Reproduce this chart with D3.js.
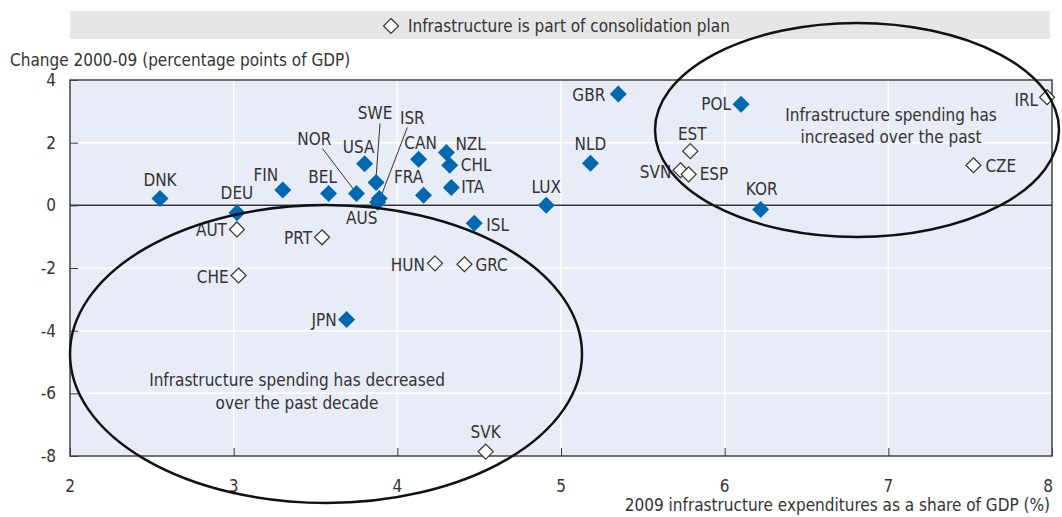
<!DOCTYPE html>
<html>
<head>
<meta charset="utf-8">
<script src="https://cdn.jsdelivr.net/npm/d3@7"></script>
<style>
  body { margin: 0; background: #fff; }
  svg text { font-family: "Liberation Sans Narrow", "DejaVu Sans Condensed", sans-serif; fill: #333; }
</style>
</head>
<body>
<div id="chart"></div>
<script>
// data
const codes = ['DNK', 'DEU', 'FIN', 'BEL', 'NOR', 'USA', 'SWE', 'ISR', 'AUS', 'CAN', 'NZL', 'CHL', 'FRA', 'ITA', 'ISL', 'LUX', 'NLD', 'GBR', 'POL', 'KOR', 'JPN',
  'AUT', 'CHE', 'PRT', 'HUN', 'GRC', 'SVK', 'EST', 'SVN', 'ESP', 'CZE', 'IRL'];
const spend2009 = [2.55, 3.02, 3.30, 3.58, 3.75, 3.80, 3.87, 3.89, 3.88, 4.13, 4.30, 4.32, 4.16, 4.33, 4.47, 4.91, 5.18, 5.35, 6.10, 6.22, 3.69,
  3.02, 3.03, 3.54, 4.23, 4.41, 4.54, 5.79, 5.73, 5.78, 7.52, 7.97];
const change0009 = [0.22, -0.24, 0.49, 0.38, 0.38, 1.33, 0.73, 0.22, 0.10, 1.47, 1.69, 1.28, 0.32, 0.57, -0.57, 0.0, 1.34, 3.55, 3.23, -0.13, -3.64,
  -0.77, -2.24, -1.02, -1.85, -1.88, -7.86, 1.73, 1.12, 0.99, 1.28, 3.45];
const inPlan = ['AUT', 'CHE', 'PRT', 'HUN', 'GRC', 'SVK', 'EST', 'SVN', 'ESP', 'CZE', 'IRL'];
const xTicks = [2, 3, 4, 5, 6, 7, 8];
const yTicks = [4, 2, 0, -2, -4, -6, -8];

const legendText = 'Infrastructure is part of consolidation plan';
const yTitle = 'Change 2000-09 (percentage points of GDP)';
const xTitle = '2009 infrastructure expenditures as a share of GDP (%)';
const noteUp = ['Infrastructure spending has', 'increased over the past'];
const noteDown = ['Infrastructure spending has decreased', 'over the past decade'];

// label placement (anchor, dx, dy) and optional leader line
const labelPos = {
  DNK: ['middle', 0, -18], DEU: ['middle', 0, -20], FIN: ['middle', -17, -15], BEL: ['middle', -6, -16],
  NOR: ['middle', -42, -54, [-34, -45, -2, -3]], USA: ['middle', -6, -17],
  SWE: ['middle', -1, -69, [4, -59, 0, -5]], ISR: ['middle', 33, -80, [28, -71, 2, -3]],
  AUS: ['middle', -16, 16], CAN: ['middle', 2, -16], NZL: ['start', 9, -8], CHL: ['start', 11, 0],
  FRA: ['middle', -15, -18], ITA: ['start', 10, 0], ISL: ['start', 12, 2], LUX: ['middle', 0, -18],
  NLD: ['middle', 0, -19], GBR: ['end', -13, 1], POL: ['end', -10, 0], KOR: ['middle', 1, -20],
  JPN: ['end', -10, 1], AUT: ['end', -10, 1], CHE: ['end', -10, 1], PRT: ['end', -10, 1],
  HUN: ['end', -10, 2], GRC: ['start', 11, 1], SVK: ['middle', 0, -20], EST: ['middle', 2, -17],
  SVN: ['end', -9, 2], ESP: ['start', 11, 0], CZE: ['start', 12, 1], IRL: ['end', -9, 3]
};

const width = 1062, height = 517;
const margin = { top: 80, right: 10, bottom: 61, left: 70 };
const innerW = width - margin.left - margin.right;
const innerH = height - margin.top - margin.bottom;

const svg = d3.select('#chart').append('svg')
  .attr('width', width)
  .attr('height', height);

// legend band
svg.append('rect')
  .attr('x', 70).attr('y', 11)
  .attr('width', 980).attr('height', 28)
  .attr('fill', '#e6e6e6');
const diamond = h => `M0,${-h}L${h},0L0,${h}L${-h},0Z`;
svg.append('path')
  .attr('d', diamond(7.5))
  .attr('transform', 'translate(391,26)')
  .attr('fill', '#fff').attr('stroke', '#333').attr('stroke-width', 1.2);
svg.append('text')
  .attr('x', 408).attr('y', 26)
  .attr('dominant-baseline', 'central')
  .style('font-size', '17px')
  .text(legendText);

svg.append('text')
  .attr('x', 10).attr('y', 60)
  .attr('dominant-baseline', 'central')
  .style('font-size', '17px')
  .text(yTitle);

const g = svg.append('g')
  .attr('transform', `translate(${margin.left},${margin.top})`);

const x = d3.scaleLinear().domain([2, 8]).range([0, innerW]);
const y = d3.scaleLinear().domain([-8, 4]).range([innerH, 0]);

g.append('rect')
  .attr('width', innerW).attr('height', innerH)
  .attr('fill', '#e8ecf7');

// grid
g.append('g').selectAll('line')
  .data(xTicks.slice(1, -1))
  .join('line')
  .attr('x1', d => x(d)).attr('x2', d => x(d))
  .attr('y1', 0).attr('y2', innerH)
  .attr('stroke', '#fff').attr('stroke-width', 1.5);
g.append('g').selectAll('line')
  .data(yTicks.slice(1, -1))
  .join('line')
  .attr('x1', 0).attr('x2', innerW)
  .attr('y1', d => y(d)).attr('y2', d => y(d))
  .attr('stroke', '#fff').attr('stroke-width', 1.5);

// axes
const yAxis = g.append('g')
  .call(d3.axisRight(y).tickValues(yTicks).tickSize(8).tickFormat(''));
yAxis.select('.domain').remove();
yAxis.selectAll('.tick line').attr('stroke', '#333');
const xAxis = g.append('g')
  .attr('transform', `translate(0,${innerH})`)
  .call(d3.axisTop(x).tickValues(xTicks).tickSize(8).tickFormat(''));
xAxis.select('.domain').remove();
xAxis.selectAll('.tick line').attr('stroke', '#333');

g.selectAll('.ytl')
  .data(yTicks)
  .join('text')
  .attr('class', 'ytl')
  .attr('x', -14).attr('y', d => y(d))
  .attr('text-anchor', 'end')
  .attr('dominant-baseline', 'central')
  .style('font-size', '17px')
  .text(d => d);
g.selectAll('.xtl')
  .data(xTicks)
  .join('text')
  .attr('class', 'xtl')
  .attr('x', d => x(d) - (d === 8 ? 4 : 0)).attr('y', innerH + 30)
  .attr('text-anchor', 'middle')
  .attr('dominant-baseline', 'central')
  .style('font-size', '17px')
  .text(d => d);

svg.append('text')
  .attr('x', 1050).attr('y', 505)
  .attr('text-anchor', 'end')
  .attr('dominant-baseline', 'central')
  .style('font-size', '17px')
  .text(xTitle);

// border and zero line
g.append('rect')
  .attr('width', innerW).attr('height', innerH)
  .attr('fill', 'none').attr('stroke', '#444').attr('stroke-width', 1.5);
g.append('line')
  .attr('x1', 0).attr('x2', innerW)
  .attr('y1', y(0)).attr('y2', y(0))
  .attr('stroke', '#333').attr('stroke-width', 1.5);

// points
const pts = codes.map((c, i) => ({ code: c, xv: spend2009[i], yv: change0009[i], plan: inPlan.includes(c) }));

const leaders = pts.filter(d => labelPos[d.code][3]);
g.selectAll('.leader')
  .data(leaders)
  .join('line')
  .attr('class', 'leader')
  .attr('x1', d => x(d.xv) + labelPos[d.code][3][0])
  .attr('y1', d => y(d.yv) + labelPos[d.code][3][1])
  .attr('x2', d => x(d.xv) + labelPos[d.code][3][2])
  .attr('y2', d => y(d.yv) + labelPos[d.code][3][3])
  .attr('stroke', '#333').attr('stroke-width', 1);

g.selectAll('.pt')
  .data(pts)
  .join('path')
  .attr('class', 'pt')
  .attr('d', d => d.plan ? diamond(7.5) : diamond(8.5))
  .attr('transform', d => `translate(${x(d.xv)},${y(d.yv)})`)
  .attr('fill', d => d.plan ? '#fff' : '#0067b1')
  .attr('stroke', d => d.plan ? '#333' : 'none')
  .attr('stroke-width', 1.2);

g.selectAll('.lbl')
  .data(pts)
  .join('text')
  .attr('class', 'lbl')
  .attr('x', d => x(d.xv) + labelPos[d.code][1])
  .attr('y', d => y(d.yv) + labelPos[d.code][2])
  .attr('text-anchor', d => labelPos[d.code][0])
  .attr('dominant-baseline', 'central')
  .style('font-size', '17px')
  .text(d => d.code);

// annotation ellipses (page coordinates)
svg.append('ellipse')
  .attr('cx', 326).attr('cy', 354).attr('rx', 256).attr('ry', 149)
  .attr('fill', 'none').attr('stroke', '#111').attr('stroke-width', 2.5);
svg.append('ellipse')
  .attr('cx', 857).attr('cy', 130).attr('rx', 202).attr('ry', 107)
  .attr('fill', 'none').attr('stroke', '#111').attr('stroke-width', 2.5);

svg.selectAll('.noteUp')
  .data(noteUp)
  .join('text')
  .attr('class', 'noteUp')
  .attr('x', 891).attr('y', (d, i) => 115 + i * 22)
  .attr('text-anchor', 'middle')
  .attr('dominant-baseline', 'central')
  .style('font-size', '17px')
  .text(d => d);
svg.selectAll('.noteDown')
  .data(noteDown)
  .join('text')
  .attr('class', 'noteDown')
  .attr('x', 297).attr('y', (d, i) => 380 + i * 23)
  .attr('text-anchor', 'middle')
  .attr('dominant-baseline', 'central')
  .style('font-size', '17px')
  .text(d => d);
</script>
</body>
</html>
